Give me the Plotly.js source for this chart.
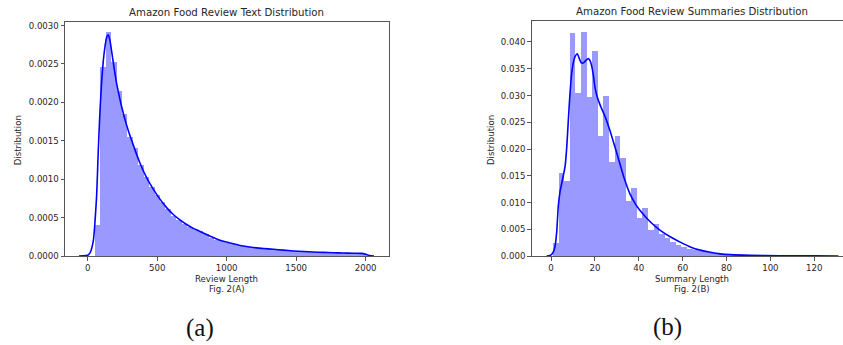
<!DOCTYPE html>
<html>
<head>
<meta charset="utf-8">
<script src="https://cdn.plot.ly/plotly-3.0.1.min.js"></script>
<style>
  html, body { margin: 0; padding: 0; overflow: hidden; background: #fff; }
  #chart { width: 855px; height: 345px; }
</style>
</head>
<body>
<div id="chart"></div>
<script>
// ---------- Data ----------
// (A) Review text length histogram: 50 equal bins
const textBinStart = 52.6;
const textBinWidth = 39.0;
const textDensity = [
  0.00040, 0.00246, 0.00291, 0.00252, 0.00215, 0.00185, 0.00155, 0.00140, 0.00119, 0.00103,
  0.00090, 0.00079, 0.00070, 0.00061, 0.00052, 0.00047, 0.00042, 0.00038, 0.00035, 0.00032,
  0.00029, 0.00024, 0.00021, 0.00019, 0.00017, 0.00015, 0.00014, 0.00013, 0.00012, 0.00011,
  0.000105, 0.000098, 0.000090, 0.000085, 0.000078, 0.000072, 0.000066, 0.000062, 0.000058, 0.000054,
  0.000052, 0.000049, 0.000046, 0.000044, 0.000042, 0.000040, 0.000038, 0.000036, 0.000036, 0.000035
];
// (A) KDE curve
const textKdeX = [-62, -30, 0, 17, 41, 53, 65, 77, 89, 101, 113, 125, 137, 149, 161, 173, 185, 209, 245, 281,
  329, 376, 424, 472, 520, 568, 616, 664, 712, 760, 808, 856, 904, 952, 1048, 1120, 1192, 1264, 1336,
  1408, 1479, 1551, 1623, 1695, 1767, 1839, 1911, 1971, 2007, 2030, 2060];
const textKdeY = [0, 0.000002, 0.00001, 0.00004, 0.0002, 0.00045, 0.0008, 0.0014, 0.0019, 0.00228, 0.00255,
  0.00273, 0.00285, 0.00288, 0.0028, 0.00266, 0.00251, 0.00224, 0.00194, 0.00170,
  0.00144, 0.00121, 0.00102, 0.00087, 0.00074, 0.00063, 0.00054, 0.00047, 0.00041, 0.00036, 0.00032,
  0.00028, 0.00024, 0.000205, 0.00016, 0.00013, 0.00011, 0.000098, 0.000087,
  0.000076, 0.000066, 0.000058, 0.000052, 0.000047, 0.000043, 0.000039, 0.000036, 0.000034, 0.000018, 0.000006, 0];

// (B) Summary length histogram: 50 equal bins
const sumBinStart = 1.0;
const sumBinWidth = 2.54;
const sumDensity = [
  0.0025, 0.01546, 0.0141, 0.0417, 0.0304, 0.0419, 0.0297, 0.0383, 0.0224, 0.0299,
  0.0176, 0.0224, 0.0184, 0.0103, 0.01265, 0.00704, 0.00903, 0.00486, 0.0060, 0.0042,
  0.0034, 0.0027, 0.0021, 0.0017, 0.0013, 0.0011, 0.0009, 0.0007, 0.00055, 0.00045,
  0.00035, 0.00028, 0.00022, 0.00018, 0.00015, 0.00012, 0.0001, 0.00009, 0.00008, 0.00007,
  0.00006, 0.00005, 0.00005, 0.00004, 0.00004, 0.00003, 0.00003, 0.00003, 0.00002, 0.00002
];
// (B) KDE curve
const sumKdeX = [-2, -1, 0, 1, 1.8, 2.6, 3.3, 4.1, 4.9, 5.6, 6.4, 7.2, 7.9, 8.6, 9.4, 10.2, 11, 12, 13,
  13.8, 14.8, 16, 17, 17.8, 18.6, 19.3, 20, 21, 22.4, 24.7, 26.9, 30, 33, 36, 38.5, 40.6, 45.2, 49.8,
  54.3, 58.9, 63.5, 68, 72.6, 77.2, 81.7, 90.9, 104.6, 120, 131];
const sumKdeY = [0, 0.00003, 0.0002, 0.0007, 0.0017, 0.0045, 0.0092, 0.0120, 0.0136, 0.0150, 0.0167, 0.0205,
  0.0254, 0.0300, 0.0341, 0.0362, 0.0373, 0.0378, 0.0368, 0.0361, 0.0361, 0.0366, 0.0369, 0.0365, 0.0354,
  0.0338, 0.0316, 0.0298, 0.0282, 0.0260, 0.0234, 0.0192, 0.0150, 0.0116, 0.0097, 0.0085, 0.0064, 0.0048,
  0.0036, 0.0026, 0.0017, 0.0011, 0.0007, 0.0004, 0.00025, 0.00013, 0.00006, 0.00003, 0];

// Tick labels / texts
const textTicks = [0, 500, 1000, 1500, 2000];
const sumTicks = [0, 20, 40, 60, 80, 100, 120];
const titleA = 'Amazon Food Review Text Distribution';
const titleB = 'Amazon Food Review Summaries Distribution';
const xLabelA = 'Review Length';
const figA = 'Fig. 2(A)';
const xLabelB = 'Summary Length';
const figB = 'Fig. 2(B)';
const yLabel = 'Distribution';
const captionA = '(a)';
const captionB = '(b)';

// ---------- Build ----------
const centers = (start, w, n) => Array.from({length: n}, (_, i) => start + w * (i + 0.5));

const W = 855, H = 345;
const barColor = 'rgb(153,153,255)';
const lineColor = '#0000ff';
const axisColor = '#555';
const textColor = '#262626';
const sans = 'DejaVu Sans, sans-serif';

const traces = [
  { type: 'bar', x: centers(textBinStart, textBinWidth, textDensity.length), y: textDensity,
    width: textBinWidth, marker: {color: barColor, line: {width: 0}}, xaxis: 'x', yaxis: 'y', hoverinfo: 'skip' },
  { type: 'scatter', mode: 'lines', x: textKdeX, y: textKdeY, line: {color: lineColor, width: 1.6, shape: 'spline', smoothing: 0.5},
    xaxis: 'x', yaxis: 'y', hoverinfo: 'skip' },
  { type: 'bar', x: centers(sumBinStart, sumBinWidth, sumDensity.length), y: sumDensity,
    width: sumBinWidth, marker: {color: barColor, line: {width: 0}}, xaxis: 'x2', yaxis: 'y2', hoverinfo: 'skip' },
  { type: 'scatter', mode: 'lines', x: sumKdeX, y: sumKdeY, line: {color: lineColor, width: 1.6, shape: 'spline', smoothing: 0.5},
    xaxis: 'x2', yaxis: 'y2', hoverinfo: 'skip' }
];

const tickFont = {family: sans, size: 8.6, color: textColor};
const axisBase = {
  showgrid: false, zeroline: false, showline: true, mirror: true, linecolor: axisColor, linewidth: 1,
  ticks: 'outside', ticklen: 3.5, tickwidth: 1, tickcolor: axisColor, tickfont: tickFont, fixedrange: true
};

const px = v => v / W;
const py = v => 1 - v / H;

const ann = (text, x, y, opts = {}) => Object.assign({
  text, x: px(x), y: py(y), xref: 'paper', yref: 'paper', showarrow: false,
  xanchor: 'center', yanchor: 'middle', font: {family: sans, size: 8.6, color: textColor}
}, opts);

const layout = {
  width: W, height: H,
  margin: {l: 0, r: 0, t: 0, b: 0},
  paper_bgcolor: '#fff', plot_bgcolor: '#fff',
  showlegend: false, bargap: 0,
  xaxis: Object.assign({}, axisBase, {domain: [px(65), px(389)], range: [-163, 2168], tickvals: textTicks, anchor: 'y'}),
  yaxis: Object.assign({}, axisBase, {domain: [py(256), py(21.7)], range: [0, 0.00305], dtick: 0.0005, tick0: 0, tickformat: '.4f', anchor: 'x'}),
  xaxis2: Object.assign({}, axisBase, {domain: [px(531.7), px(852)], range: [-8.8, 137.2], tickvals: sumTicks, anchor: 'y2'}),
  yaxis2: Object.assign({}, axisBase, {domain: [py(256), py(20.7)], range: [0, 0.04398], dtick: 0.005, tick0: 0, tickformat: '.3f', anchor: 'x2'}),
  annotations: [
    ann(titleA, 227, 12.3, {font: {family: sans, size: 10.2, color: textColor}}),
    ann(titleB, 691.5, 11.7, {font: {family: sans, size: 10.2, color: textColor}}),
    ann(xLabelA, 227, 279),
    ann(figA, 227, 289.3),
    ann(xLabelB, 691.5, 279),
    ann(figB, 691.5, 289.3),
    ann(yLabel, 18.3, 140, {textangle: -90}),
    ann(yLabel, 491, 140, {textangle: -90}),
    ann(captionA, 199.5, 328, {font: {family: 'Liberation Serif, serif', size: 25, color: '#111'}}),
    ann(captionB, 667, 327, {font: {family: 'Liberation Serif, serif', size: 25, color: '#111'}})
  ]
};

Plotly.newPlot('chart', traces, layout, {staticPlot: true, displayModeBar: false});
</script>
</body>
</html>
